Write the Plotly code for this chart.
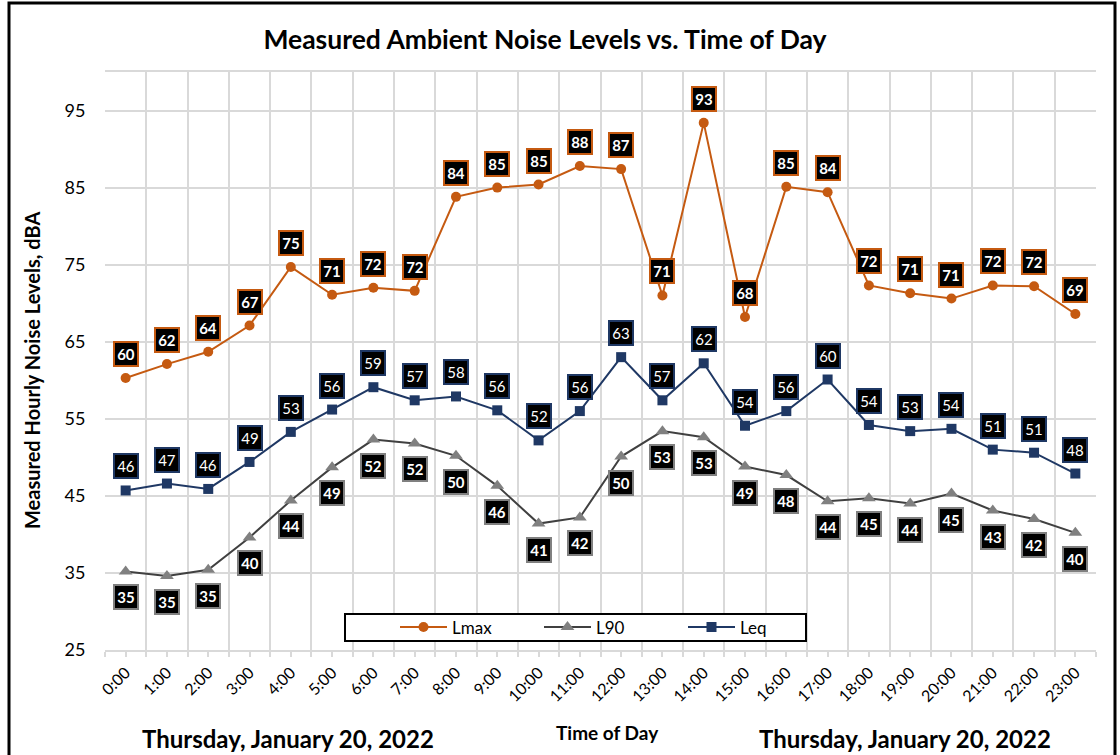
import plotly.graph_objects as go

# Hourly measurements, Thursday January 20, 2022
hours = [f"{h}:00" for h in range(24)]
lmax = [60.3, 62.1, 63.7, 67.1, 74.7, 71.1, 72.0, 71.6, 83.8, 85.0, 85.4, 87.8,
        87.4, 71.0, 93.4, 68.2, 85.1, 84.4, 72.3, 71.3, 70.6, 72.3, 72.2, 68.6]
l90 = [35.2, 34.6, 35.4, 39.6, 44.4, 48.7, 52.3, 51.8, 50.2, 46.3, 41.4, 42.2,
       50.1, 53.4, 52.6, 48.8, 47.7, 44.3, 44.7, 44.0, 45.3, 43.1, 42.0, 40.2]
leq = [45.7, 46.6, 45.9, 49.4, 53.3, 56.2, 59.1, 57.4, 57.9, 56.1, 52.2, 56.0,
       63.0, 57.4, 62.2, 54.1, 56.0, 60.1, 54.2, 53.4, 53.7, 51.0, 50.6, 47.9]
y_ticks = [25, 35, 45, 55, 65, 75, 85, 95]

ORANGE = "#C55A11"
GRAY = "#808080"
DARK = "#404040"
NAVY = "#1F3864"
GRID = "#D9D9D9"
FONT = "Lato"

x = list(range(len(hours)))

fig = go.Figure()
fig.add_trace(go.Scatter(
    x=x, y=lmax, name="Lmax", mode="lines+markers",
    line=dict(color=ORANGE, width=2),
    marker=dict(symbol="circle", size=10, color=ORANGE)))
fig.add_trace(go.Scatter(
    x=x, y=l90, name="L90", mode="lines+markers",
    line=dict(color=DARK, width=2),
    marker=dict(symbol="triangle-up", size=12, color=GRAY)))
fig.add_trace(go.Scatter(
    x=x, y=leq, name="Leq", mode="lines+markers",
    line=dict(color=NAVY, width=2),
    marker=dict(symbol="square", size=10, color=NAVY)))


def rnd(v):
    return str(int(v + 0.5))


# Value tags: black boxes framed in the series colour
annotations = []
for vals, border, shift, bold in ((lmax, ORANGE, 24, True),
                                  (leq, NAVY, 24, False),
                                  (l90, GRAY, -26, True)):
    for xi, v in zip(x, vals):
        txt = f"<b>{rnd(v)}</b>" if bold else rnd(v)
        annotations.append(dict(
            x=xi, y=v, xref="x", yref="y", text=txt, showarrow=False,
            yshift=shift, font=dict(family=FONT, size=15, color="white"),
            bgcolor="black", bordercolor=border, borderwidth=2, borderpad=2,
            width=18, height=18, align="center", valign="middle"))

L, R, T, B = 105, 1096, 72, 650
PW, PH = R - L, B - T


def px(xp):
    return (xp - L) / PW


def py(yp):
    return (B - yp) / PH


def caption(text, cx, cy, size, angle=0):
    return dict(x=px(cx), y=py(cy), xref="paper", yref="paper", showarrow=False,
                xanchor="center", yanchor="middle", text=f"<b>{text}</b>",
                textangle=angle,
                font=dict(family=FONT, size=size, color="black"))


annotations += [
    caption("Measured Hourly Noise Levels, dBA", 32, 371, 20, angle=-90),
    caption("Time of Day", 607, 732, 19),
    caption("Thursday, January 20, 2022", 288, 738, 24),
    caption("Thursday, January 20, 2022", 905, 738, 24),
]

shapes = [
    # outer chart frame
    dict(type="rect", xref="paper", yref="paper",
         x0=px(9), x1=px(1115), y0=py(770), y1=py(3),
         line=dict(color="black", width=3), fillcolor="rgba(0,0,0,0)", layer="above"),
    # legend frame
    dict(type="rect", xref="paper", yref="paper",
         x0=px(345), x1=px(806), y0=py(641), y1=py(614),
         line=dict(color="black", width=2), fillcolor="white", layer="above"),
]

fig.update_layout(
    width=1120, height=755,
    margin=dict(l=L, r=1120 - R, t=T, b=755 - B),
    paper_bgcolor="white", plot_bgcolor="white",
    font=dict(family=FONT, color="black"),
    title=dict(text="<b>Measured Ambient Noise Levels vs. Time of Day</b>",
               x=545 / 1120, xanchor="center", y=1 - 40 / 755, yanchor="middle",
               font=dict(family=FONT, size=26.5, color="black")),
    showlegend=True,
    legend=dict(orientation="h", x=px(395), xanchor="left",
                y=py(627.5), yanchor="middle", bgcolor="rgba(0,0,0,0)",
                font=dict(family=FONT, size=17, color="black"),
                itemwidth=47, entrywidth=82, entrywidthmode="pixels"),
    annotations=annotations,
    shapes=shapes,
)

fig.update_xaxes(
    range=[-0.5, 23.5], tickmode="array", tickvals=x, ticktext=hours,
    tickangle=-45, tickfont=dict(family=FONT, size=16, color="black"),
    ticks="outside", ticklen=5, tickcolor=GRID, tickwidth=2,
    showgrid=False, zeroline=False,
    showline=True, mirror=True, linecolor=GRID, linewidth=2,
    minor=dict(tickvals=[i - 0.5 for i in range(25)], showgrid=True,
               gridcolor=GRID, gridwidth=2, ticks="outside", ticklen=5,
               tickcolor=GRID, tickwidth=2),
)
fig.update_yaxes(
    range=[25, 100], tickmode="array", tickvals=y_ticks,
    tickfont=dict(family=FONT, size=18, color="black"),
    showgrid=True, gridcolor=GRID, gridwidth=2, zeroline=False,
    ticks="outside", ticklen=15, tickcolor="rgba(0,0,0,0)",
)

fig.write_html("out.html")
